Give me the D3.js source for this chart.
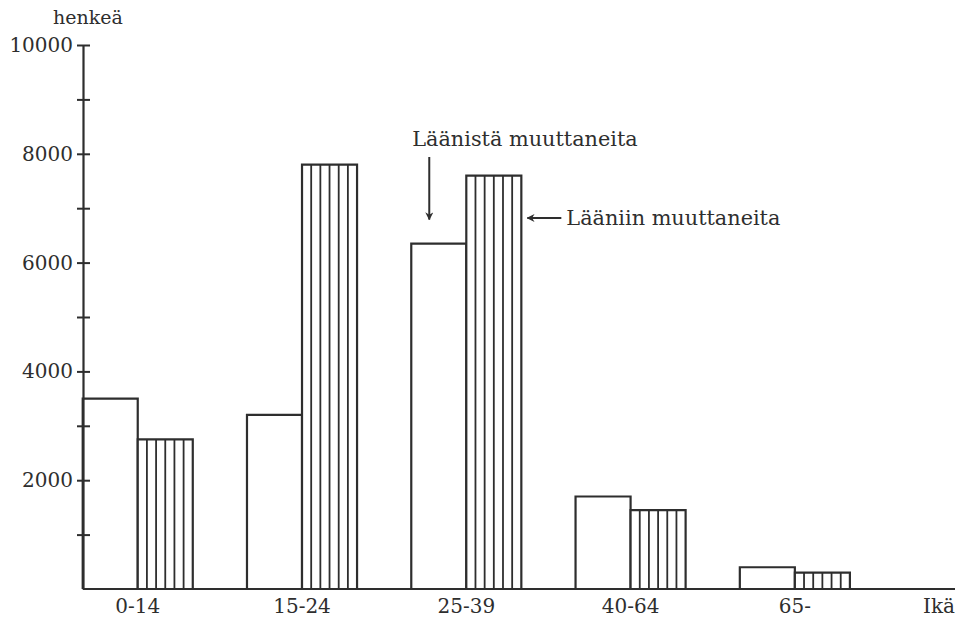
<!DOCTYPE html>
<html>
<head>
<meta charset="utf-8">
<script src="https://cdn.jsdelivr.net/npm/d3@7/dist/d3.min.js"></script>
<style>
  html, body { margin: 0; padding: 0; background: #fff; }
  svg { display: block; }
  text { font-family: "DejaVu Serif", "Liberation Serif", serif; fill: #2e2e2e; }
</style>
</head>
<body>
<svg id="chart" width="962" height="622"></svg>
<script>
// ---- data ----
const categories = ["0-14", "15-24", "25-39", "40-64", "65-"];
const seriesKeys = ["out", "in"];              // out = Läänistä muuttaneita, in = Lääniin muuttaneita
const outValues = [3500, 3200, 6350, 1700, 400];
const inValues  = [2750, 7800, 7600, 1450, 300];
const yTickValues = [0, 1000, 2000, 3000, 4000, 5000, 6000, 7000, 8000, 9000, 10000];
const yLabelValues = [2000, 4000, 6000, 8000, 10000];
const yTitle = "henkeä";
const xTitle = "Ikä";
const labelOut = "Läänistä muuttaneita";
const labelIn = "Lääniin muuttaneita";
const hatchDivisions = 6;

// ---- layout ----
const svg = d3.select("#chart");
const axisX = 83, baseY = 589, topY = 45, axisEndX = 955;
const ink = "#2e2e2e";

const y = d3.scaleLinear().domain([0, 10000]).range([baseY, topY]);
const x = d3.scaleBand().domain(categories).range([55.6, 877])
  .paddingInner(0.33).paddingOuter(0.165);
const xs = d3.scaleBand().domain(seriesKeys).range([0, x.bandwidth()]);

const rows = categories.map((c, i) => ({ cat: c, out: outValues[i], in: inValues[i] }));

// ---- bars ----
const g = svg.append("g");
rows.forEach(r => {
  seriesKeys.forEach(k => {
    const x0 = x(r.cat) + xs(k), w = xs.bandwidth();
    const yt = y(r[k]);
    g.append("path")
      .attr("d", `M${x0},${baseY}V${yt}H${x0 + w}V${baseY}`)
      .attr("fill", "#fff")
      .attr("stroke", ink)
      .attr("stroke-width", 2.2);
    if (k === "in") {
      g.selectAll(null)
        .data(d3.range(1, hatchDivisions))
        .enter().append("line")
        .attr("x1", j => x0 + w * j / hatchDivisions)
        .attr("x2", j => x0 + w * j / hatchDivisions)
        .attr("y1", yt)
        .attr("y2", baseY)
        .attr("stroke", ink)
        .attr("stroke-width", 1.8);
    }
  });
});

// ---- y axis ----
const yAxis = d3.axisLeft(y)
  .tickValues(yTickValues)
  .tickFormat(d => yLabelValues.includes(d) ? String(d) : "")
  .tickSize(0)
  .tickSizeOuter(0)
  .tickPadding(10);
const ya = svg.append("g").attr("transform", `translate(${axisX},0)`).call(yAxis);
ya.select(".domain").attr("stroke", ink).attr("stroke-width", 2.2);
ya.selectAll(".tick line")
  .attr("x1", -6).attr("x2", 7)
  .attr("stroke", ink).attr("stroke-width", 2)
  .filter(d => d === 0).remove();
ya.selectAll(".tick text")
  .style("font-family", '"DejaVu Serif", serif')
  .style("font-size", "20px")
  .attr("fill", "#2e2e2e");

// ---- x axis ----
svg.append("line")
  .attr("x1", axisX).attr("x2", axisEndX)
  .attr("y1", baseY).attr("y2", baseY)
  .attr("stroke", ink).attr("stroke-width", 2.2);
const xAxis = d3.axisBottom(x).tickSize(0).tickPadding(10);
const xa = svg.append("g").attr("transform", `translate(0,${baseY})`).call(xAxis);
xa.select(".domain").remove();
xa.selectAll(".tick text")
  .style("font-family", '"DejaVu Serif", serif')
  .style("font-size", "20px")
  .attr("fill", "#2e2e2e");

// ---- titles ----
svg.append("text")
  .attr("x", 88).attr("y", 24)
  .attr("text-anchor", "middle")
  .style("font-size", "19px")
  .text(yTitle);
svg.append("text")
  .attr("x", axisEndX).attr("y", baseY + 24)
  .attr("text-anchor", "end")
  .style("font-size", "20px")
  .text(xTitle);

// ---- annotations ----
const defs = svg.append("defs");
defs.append("marker")
  .attr("id", "arr")
  .attr("viewBox", "0 0 10 10")
  .attr("refX", 9).attr("refY", 5)
  .attr("markerWidth", 8).attr("markerHeight", 8)
  .attr("markerUnits", "userSpaceOnUse")
  .attr("orient", "auto")
  .append("path")
  .attr("d", "M0,0L10,5L0,10L3,5Z")
  .attr("fill", ink);

const bOut = x("25-39") + xs("out");
const bIn = x("25-39") + xs("in") + xs.bandwidth();
const arrowDownX = bOut + 18;
svg.append("text")
  .attr("x", arrowDownX - 17).attr("y", 146)
  .style("font-size", "20.8px")
  .text(labelOut);
svg.append("line")
  .attr("x1", arrowDownX).attr("x2", arrowDownX)
  .attr("y1", 157).attr("y2", y(outValues[2]) - 24)
  .attr("stroke", ink).attr("stroke-width", 2)
  .attr("marker-end", "url(#arr)");
const arrowLeftY = 218;
svg.append("line")
  .attr("x1", bIn + 40).attr("x2", bIn + 6)
  .attr("y1", arrowLeftY).attr("y2", arrowLeftY)
  .attr("stroke", ink).attr("stroke-width", 2)
  .attr("marker-end", "url(#arr)");
svg.append("text")
  .attr("x", bIn + 45).attr("y", arrowLeftY + 7)
  .style("font-size", "20.8px")
  .text(labelIn);
</script>
</body>
</html>
